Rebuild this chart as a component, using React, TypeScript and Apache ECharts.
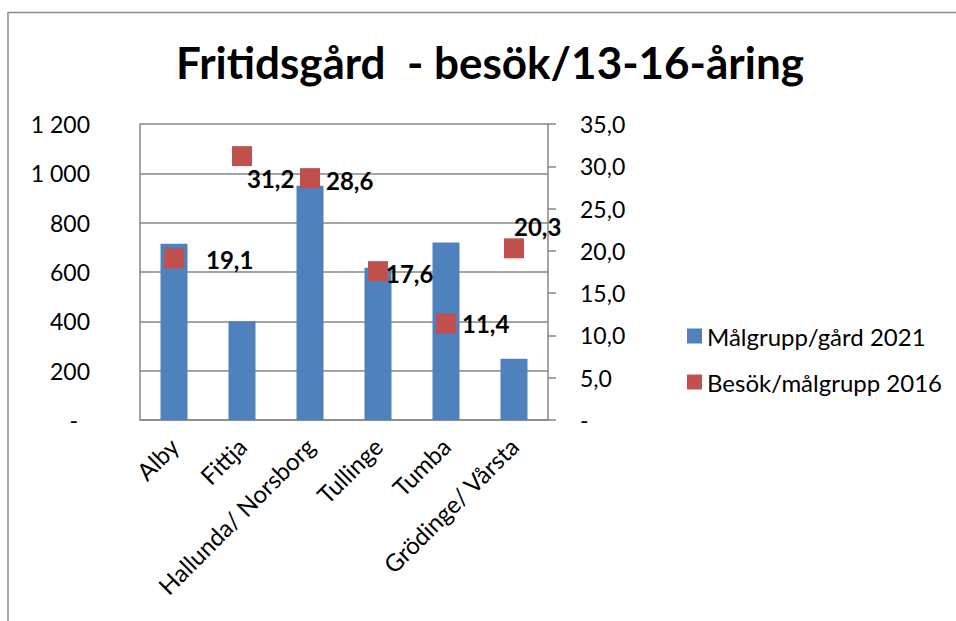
import React, { useEffect, useRef } from "react";
import * as echarts from "echarts";

const categories = ["Alby", "Fittja", "Hallunda/ Norsborg", "Tullinge", "Tumba", "Grödinge/ Vårsta"];
const targetGroup2021 = [715, 400, 950, 617, 720, 248];
const visitsPerGroup2016 = [19.1, 31.2, 28.6, 17.6, 11.4, 20.3];
const leftTicks = { min: 0, max: 1200, interval: 200 };
const rightTicks = { min: 0, max: 35, interval: 5 };
const seriesNames = ["Målgrupp/gård 2021", "Besök/målgrupp 2016"];
const titleText = "Fritidsgård  - besök/13-16-åring";

// label nudges for the scatter values (style only)
const labelOffsets: [number, number][] = [
  [22, 1],
  [-5, 22],
  [6, 2],
  [-2, 2],
  [6, 0],
  [-10, -22],
];

const FONT = "Lato";
const GRAY = "#868686";

export default function App() {
  const ref = useRef<HTMLDivElement>(null);
  useEffect(() => {
    document.body.style.margin = "0";
    if (!ref.current) return;
    const chart = echarts.init(ref.current, undefined, { renderer: "svg" });
    const fmtLeft = (v: number) =>
      v === 0 ? "{d|-}" : String(v).replace(/\B(?=(\d{3})+(?!\d))/g, " ");
    const fmtRight = (v: number) => (v === 0 ? "-" : v.toFixed(1).replace(".", ","));
    chart.setOption({
      animation: false,
      textStyle: { fontFamily: FONT },
      title: {
        text: titleText,
        left: 485,
        textAlign: "center",
        top: 35,
        textStyle: { fontFamily: FONT, fontWeight: "bold", fontSize: 44, color: "#000" },
      },
      graphic: [
        {
          type: "rect",
          shape: { x: 8, y: 12.5, width: 1000, height: 700 },
          style: { fill: "none", stroke: "#8a8a8a", lineWidth: 1.5 },
          silent: true,
        },
      ],
      legend: {
        orient: "vertical",
        left: 682,
        top: 319,
        itemWidth: 15,
        itemHeight: 15,
        itemGap: 22,
        icon: "rect",
        data: seriesNames,
        textStyle: { fontFamily: FONT, fontSize: 24, color: "#000" },
      },
      grid: { left: 140, right: 408, top: 124, bottom: 201 },
      xAxis: {
        type: "category",
        data: categories,
        axisLine: { lineStyle: { color: GRAY, width: 1.5 } },
        axisTick: { show: false },
        axisLabel: {
          interval: 0,
          rotate: 45,
          margin: 22,
          fontFamily: FONT,
          fontSize: 24,
          color: "#000",
        },
      },
      yAxis: [
        {
          type: "value",
          ...leftTicks,
          axisLine: { show: true, lineStyle: { color: GRAY, width: 1.5 } },
          axisTick: { show: false },
          splitLine: { lineStyle: { color: GRAY, width: 1.5 } },
          axisLabel: {
            margin: 50,
            fontFamily: FONT,
            fontSize: 23,
            color: "#000",
            formatter: fmtLeft,
            rich: { d: { fontFamily: FONT, fontSize: 23, color: "#000", padding: [0, 12, 0, 0] } },
          },
        },
        {
          type: "value",
          ...rightTicks,
          position: "right",
          axisLine: { show: true, lineStyle: { color: GRAY, width: 1.5 } },
          axisTick: { show: true, length: 8, lineStyle: { color: GRAY, width: 1.5 } },
          splitLine: { show: false },
          axisLabel: {
            margin: 32,
            fontFamily: FONT,
            fontSize: 23,
            color: "#000",
            formatter: fmtRight,
          },
        },
      ],
      series: [
        {
          name: seriesNames[0],
          type: "bar",
          data: targetGroup2021,
          barWidth: 27,
          itemStyle: { color: "#4F81BD" },
          yAxisIndex: 0,
        },
        {
          name: seriesNames[1],
          type: "scatter",
          yAxisIndex: 1,
          symbol: "rect",
          symbolSize: 20,
          itemStyle: { color: "#C0504D", opacity: 1 },
          data: visitsPerGroup2016.map((v, i) => ({
            value: v,
            label: { offset: labelOffsets[i] },
          })),
          label: {
            show: true,
            position: "right",
            distance: 0,
            fontFamily: FONT,
            fontWeight: "bold",
            fontSize: 24,
            color: "#000",
            formatter: (p: any) => Number(p.value).toFixed(1).replace(".", ","),
          },
          z: 5,
        },
      ],
    });
    return () => chart.dispose();
  }, []);
  return <div ref={ref} style={{ width: 956, height: 621 }} />;
}
